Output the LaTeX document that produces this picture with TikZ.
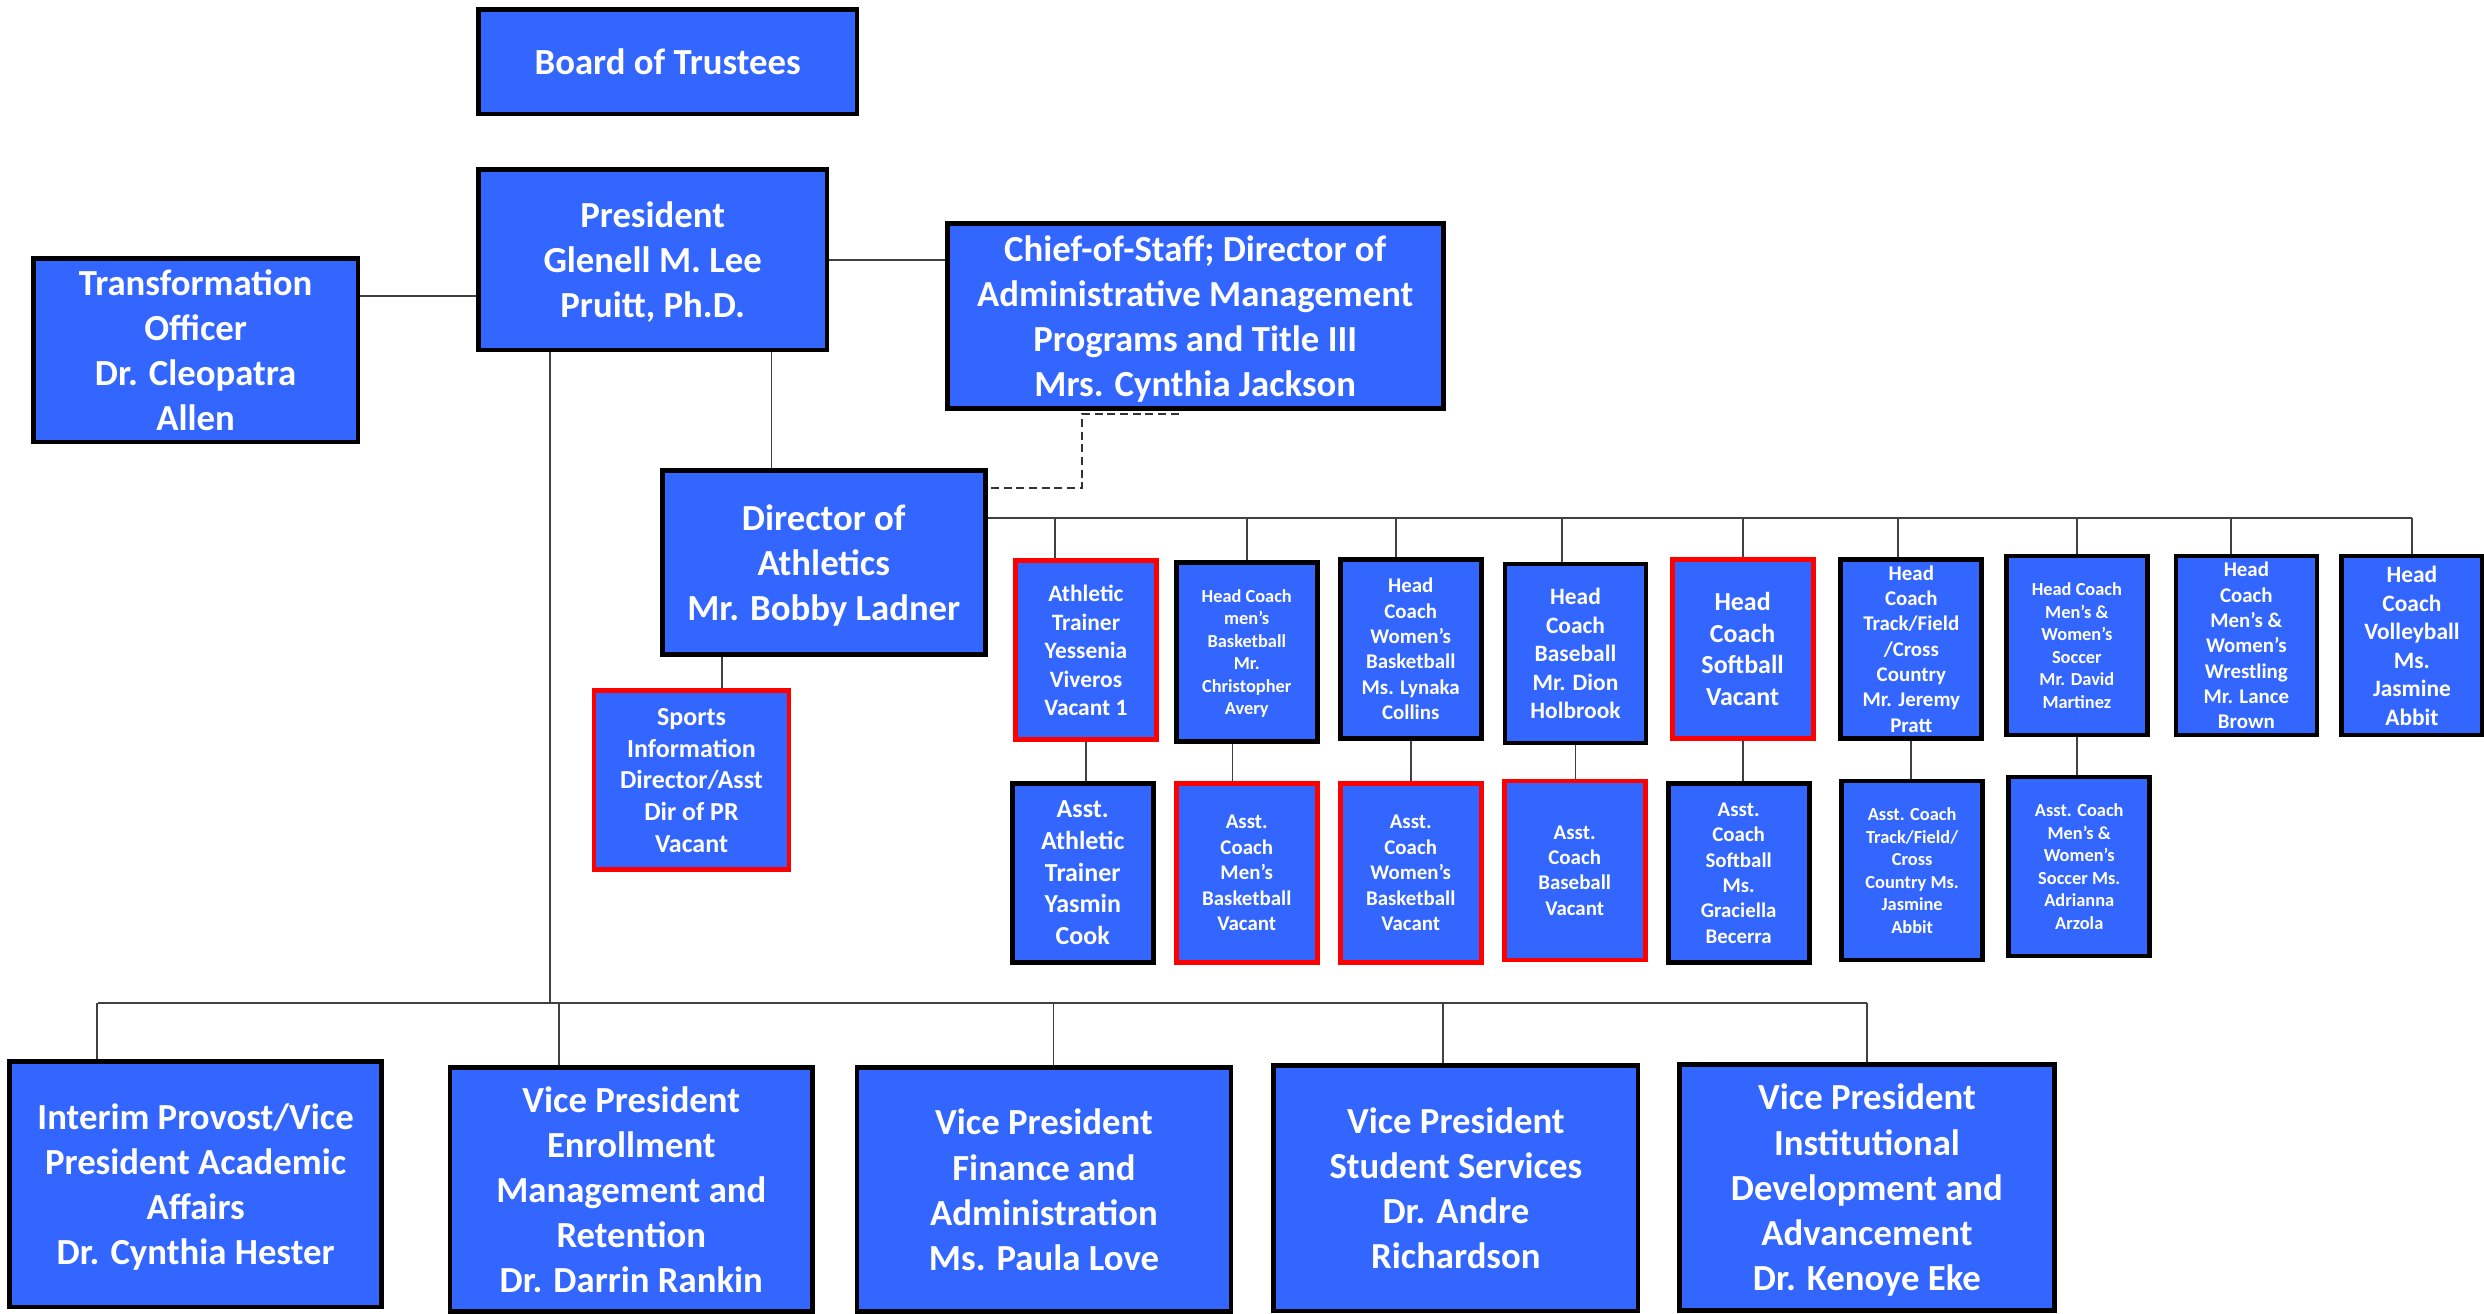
\documentclass[tikz,border=0pt]{standalone}
\usepackage{fontspec}
\setmainfont{Carlito}
\usepackage{tikz}
\usetikzlibrary{calc}

\definecolor{boxblue}{HTML}{3366FF}
\definecolor{vacred}{HTML}{FF0000}

\tikzset{
	orgbox/.style={draw=black, line width=1.5pt, fill=boxblue, text=white, align=center, inner sep=0pt, text depth=0pt},
	redbox/.style={orgbox, draw=vacred},
	hcbox/.style={minimum width=44.5pt, minimum height=56.5pt},
	link/.style={draw=black!75, line width=0.6pt},
	fsbig/.style={font=\fontsize{11.6}{14.25}\selectfont\bfseries},
	fsA/.style={font=\fontsize{8.2}{10}\selectfont\bfseries},
	fsB/.style={font=\fontsize{7.4}{9}\selectfont\bfseries},
	fsC/.style={font=\fontsize{6.6}{8}\selectfont\bfseries},
	fsD/.style={font=\fontsize{5.8}{7.1}\selectfont\bfseries}
}

\begin{document}
\begin{tikzpicture}[x=0.5pt,y=-0.5pt]
	\useasboundingbox (0,0) rectangle (1568,829);
	
	%top boxes
	\node[orgbox,fsbig,minimum width=119.5pt,minimum height=33pt] (bot) at (421.5,39) {Board of Trustees};
	\node[orgbox,fsbig,minimum width=110pt,minimum height=57pt] (pres) at (412,164) {President\\Glenell M. Lee\\Pruitt, Ph.D.};
	\node[orgbox,fsbig,minimum width=102.5pt,minimum height=58pt] (tro) at (123.5,221) {Transformation\\Officer\\Dr. Cleopatra\\Allen};
	\node[orgbox,fsbig,minimum width=156.5pt,minimum height=58.5pt] (cos) at (754.5,199.5) {Chief-of-Staff; Director of\\Administrative Management\\Programs and Title III\\Mrs. Cynthia Jackson};
	\node[orgbox,fsbig,minimum width=102pt,minimum height=58pt] (ad) at (520,355) {Director of\\Athletics\\Mr. Bobby Ladner};
	\node[redbox,fsA,minimum width=61.5pt,minimum height=56.5pt] (sid) at (436.5,492.5) {Sports\\Information\\Director/Asst\\Dir of PR\\Vacant};
	
	%head coaches
	\node[redbox,fsB,hcbox] (htr) at (685.5,410.5) {Athletic\\Trainer\\Yessenia\\Viveros\\Vacant 1};
	\node[orgbox,fsD,hcbox] (hmbb) at (787,411.5) {Head Coach\\men’s\\Basketball\\Mr.\\Christopher\\Avery};
	\node[orgbox,fsC,hcbox] (hwbb) at (890.5,409.5) {Head\\Coach\\Women’s\\Basketball\\Ms. Lynaka\\Collins};
	\node[orgbox,fsB,hcbox] (hbase) at (994.5,412.5) {Head\\Coach\\Baseball\\Mr. Dion\\Holbrook};
	\node[redbox,fsA,hcbox] (hsoft) at (1100,409.5) {Head\\Coach\\Softball\\Vacant};
	\node[orgbox,fsC,hcbox] (htrack) at (1206.5,409.5) {Head\\Coach\\Track/Field\\/Cross\\Country\\Mr. Jeremy\\Pratt};
	\node[orgbox,fsD,hcbox] (hsoc) at (1311,407.5) {Head Coach\\Men’s \&\\Women’s\\Soccer\\Mr. David\\Martinez};
	\node[orgbox,fsC,hcbox] (hwres) at (1418,407.5) {Head\\Coach\\Men’s \&\\Women’s\\Wrestling\\Mr. Lance\\Brown};
	\node[orgbox,fsB,hcbox] (hvol) at (1522.5,407.5) {Head\\Coach\\Volleyball\\Ms.\\Jasmine\\Abbit};
	
	%assistants
	\node[orgbox,fsA,hcbox] (atr) at (683.5,551) {Asst.\\Athletic\\Trainer\\Yasmin\\Cook};
	\node[redbox,fsC,hcbox] (ambb) at (787,551) {Asst.\\Coach\\Men’s\\Basketball\\Vacant};
	\node[redbox,fsC,hcbox] (awbb) at (890.5,551) {Asst.\\Coach\\Women’s\\Basketball\\Vacant};
	\node[redbox,fsC,hcbox] (abase) at (994,549.5) {Asst.\\Coach\\Baseball\\Vacant};
	\node[orgbox,fsC,hcbox] (asoft) at (1097.5,551) {Asst.\\Coach\\Softball\\Ms.\\Graciella\\Becerra};
	\node[orgbox,fsD,hcbox] (atrack) at (1207,549.5) {Asst. Coach\\Track/Field/\\Cross\\Country Ms.\\Jasmine\\Abbit};
	\node[orgbox,fsD,hcbox] (asoc) at (1312.5,547) {Asst. Coach\\Men’s \&\\Women’s\\Soccer Ms.\\Adrianna\\Arzola};
	
	%vice presidents
	\node[orgbox,fsbig,minimum width=117.5pt,minimum height=77.5pt] (prov) at (123.5,747.5) {Interim Provost/Vice\\President Academic\\Affairs\\Dr. Cynthia Hester};
	\node[orgbox,fsbig,minimum width=114.5pt,minimum height=77pt] (enr) at (398.5,751) {Vice President\\Enrollment\\Management and\\Retention\\Dr. Darrin Rankin};
	\node[orgbox,fsbig,minimum width=118pt,minimum height=77pt] (fin) at (659,751) {Vice President\\Finance and\\Administration\\Ms. Paula Love};
	\node[orgbox,fsbig,minimum width=115pt,minimum height=77.5pt] (stu) at (919,750) {Vice President\\Student Services\\Dr. Andre\\Richardson};
	\node[orgbox,fsbig,minimum width=118.5pt,minimum height=77.5pt] (inst) at (1178.5,749.5) {Vice President\\Institutional\\Development and\\Advancement\\Dr. Kenoye Eke};
	
	%lines
	\draw[link] ([yshift=-11.5pt]pres.west) -- ([yshift=-11.5pt]pres.west -| tro.east);
	\draw[link] (pres.east) -- (pres.east -| cos.west);
	\draw[link] ([xshift=37.5pt]pres.south) -- ([xshift=37.5pt]pres.south |- ad.north);
	\draw[link] ([xshift=9.75pt]sid.north) -- ([xshift=9.75pt]sid.north |- ad.south);
	\draw[black!80,line width=0.6pt,dash pattern=on 2.5pt off 1.5pt] ([xshift=-5.25pt,yshift=-1pt]cos.south) -- ([xshift=-35.75pt,yshift=-1pt]cos.south) |- ([yshift=23.5pt]ad.east);
	
	%athletics bus
	\coordinate (hbus) at ([yshift=14pt]ad.east);
	\draw[link] (hbus) -- (hbus -| hvol.north);
	\foreach \n/\dx in {htr/-9.75,hmbb/0,hwbb/-4.75,hbase/-4.25,hsoft/0,htrack/-4.25,hsoc/0,hwres/-5,hvol/0}
		\draw[link] ([xshift=\dx pt]\n.north) -- ([xshift=\dx pt]\n.north |- hbus);
	\foreach \h/\a/\dx in {htr/atr/0,hmbb/ambb/-4.5,hwbb/awbb/0,hbase/abase/0,hsoft/asoft/0,htrack/atrack/0,hsoc/asoc/0}
		\draw[link] ([xshift=\dx pt]\h.south) -- ([xshift=\dx pt]\h.south |- \a.north);
	
	%vice president bus
	\coordinate (vbus) at (62,633);
	\draw[link] ([xshift=-32.5pt]pres.south) -- ([xshift=-32.5pt]pres.south |- vbus);
	\draw[link] (vbus) -- (vbus -| inst.north);
	\foreach \n/\dx in {prov/-31,enr/-22.75,fin/3,stu/-4,inst/0}
		\draw[link] ([xshift=\dx pt]\n.north) -- ([xshift=\dx pt]\n.north |- vbus);
	
\end{tikzpicture}
\end{document}
